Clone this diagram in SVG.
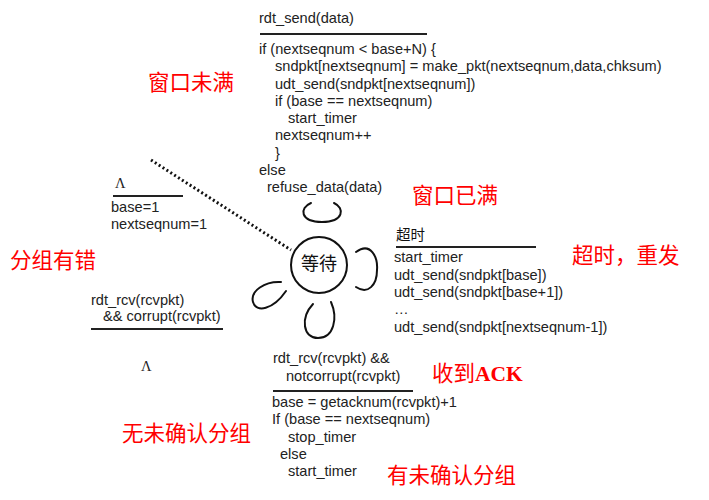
<svg xmlns="http://www.w3.org/2000/svg" width="709" height="500" viewBox="0 0 709 500">
<style>
.t{font-family:"Liberation Sans",Arial,"Noto Sans CJK SC",sans-serif;font-size:14.6px;fill:#222}
.cn{font-family:"Noto Sans CJK SC",sans-serif;font-size:14.5px;fill:#111}
.red{font-family:"Noto Sans CJK SC","Liberation Serif",serif;font-size:21.5px;fill:#f00}
.lam{font-family:"Liberation Serif",serif;font-size:14.5px;fill:#222}
.rule{stroke:#222;stroke-width:2;fill:none}
.loop{stroke:#111;stroke-width:2;fill:none;stroke-linecap:round}
</style>
<rect width="709" height="500" fill="#fff"/>
<g id="connectors">
<path d="M151 160 L291 250" fill="none" stroke="#111" stroke-width="3" stroke-dasharray="2 2.6"/>
<path class="loop" d="M311 203 C299 208 300 222 322 222 C344 222 345 208 334 203"/>
<path class="loop" d="M356 252 C371 241 378 258 377 270 C377 285 368 295 356 287"/>
<path class="loop" d="M313 304 C300 318 303 338 318 338 C334 338 338 318 331 302"/>
<path class="loop" d="M281 282 C265 281 250 291 253 302 C256 313 273 310 286 291"/>
</g>
<g id="state-wait">
<circle cx="319" cy="265" r="28" fill="#fff" stroke="#111" stroke-width="2"/>
<text x="319" y="270" text-anchor="middle" font-family="'Noto Sans CJK SC',sans-serif" font-size="18" fill="#111">等待</text>
</g>
<g id="label-send">
<text class="t" x="259" y="23" font-size="13.6">rdt_send(data)</text>
<line class="rule" x1="260" y1="34" x2="427" y2="34"/>
<text class="t" x="259" y="54">if (nextseqnum &lt; base+N) {</text>
<text class="t" x="275" y="71.2">sndpkt[nextseqnum] = make_pkt(nextseqnum,data,chksum)</text>
<text class="t" x="275" y="88.5">udt_send(sndpkt[nextseqnum])</text>
<text class="t" x="275" y="105.7">if (base == nextseqnum)</text>
<text class="t" x="288" y="123">start_timer</text>
<text class="t" x="275" y="140.2">nextseqnum++</text>
<text class="t" x="275" y="157.5">}</text>
<text class="t" x="259" y="174.7">else</text>
<text class="t" x="267" y="192">refuse_data(data)</text>
</g>
<g id="label-init">
<text class="lam" x="115" y="188">Λ</text>
<line class="rule" x1="113" y1="196" x2="183" y2="196" stroke="#555"/>
<text class="t" x="111" y="212">base=1</text>
<text class="t" x="111" y="229">nextseqnum=1</text>
</g>
<g id="label-timeout">
<text class="cn" x="396" y="240">超时</text>
<line class="rule" x1="396" y1="247" x2="536" y2="247" stroke="#444"/>
<text class="t" x="394" y="262">start_timer</text>
<text class="t" x="394" y="280">udt_send(sndpkt[base])</text>
<text class="t" x="394" y="297">udt_send(sndpkt[base+1])</text>
<text class="t" x="394" y="314">…</text>
<text class="t" x="394" y="332">udt_send(sndpkt[nextseqnum-1])</text>
</g>
<g id="label-corrupt">
<text class="t" x="91" y="305">rdt_rcv(rcvpkt)</text>
<text class="t" x="103" y="321">&amp;&amp; corrupt(rcvpkt)</text>
<line class="rule" x1="91" y1="329" x2="223" y2="329" stroke="#555"/>
<text class="lam" x="141" y="371">Λ</text>
</g>
<g id="label-ack">
<text class="t" x="273" y="363">rdt_rcv(rcvpkt) &amp;&amp;</text>
<text class="t" x="286" y="381">notcorrupt(rcvpkt)</text>
<line class="rule" x1="273" y1="391" x2="413" y2="391" stroke-width="2.5"/>
<text class="t" x="272" y="407">base = getacknum(rcvpkt)+1</text>
<text class="t" x="272" y="424">If (base == nextseqnum)</text>
<text class="t" x="288" y="442">stop_timer</text>
<text class="t" x="280" y="459">else</text>
<text class="t" x="288" y="476">start_timer</text>
</g>
<g id="notes">
<text class="red" x="148" y="90">窗口未满</text>
<text class="red" x="412" y="203">窗口已满</text>
<text class="red" x="572" y="263">超时，重发</text>
<text class="red" x="10" y="268">分组有错</text>
<text class="red" x="432" y="381">收到<tspan font-family="'Liberation Serif',serif" font-weight="bold">ACK</tspan></text>
<text class="red" x="122" y="441">无未确认分组</text>
<text class="red" x="387" y="483">有未确认分组</text>
</g>
</svg>
